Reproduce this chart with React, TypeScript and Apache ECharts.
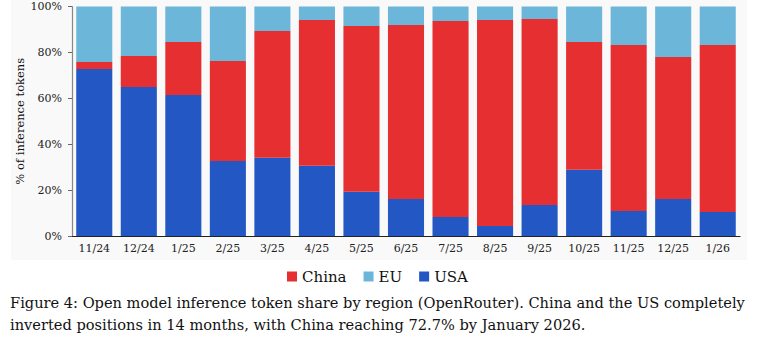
import React, { useEffect, useRef } from "react";
import * as echarts from "echarts";

const categories = ["11/24", "12/24", "1/25", "2/25", "3/25", "4/25", "5/25", "6/25", "7/25", "8/25", "9/25", "10/25", "11/25", "12/25", "1/26"];
const usaShare = [72.8, 64.9, 61.4, 32.7, 34.1, 30.6, 19.3, 16.1, 8.3, 4.4, 13.5, 28.9, 10.9, 16.1, 10.5];
const chinaShare = [3.0, 13.5, 23.1, 43.6, 55.2, 63.5, 72.2, 75.8, 85.4, 89.7, 81.1, 55.6, 72.3, 61.9, 72.7];
const euShare = [24.2, 21.6, 15.5, 23.7, 10.7, 5.9, 8.5, 8.1, 6.3, 5.9, 5.4, 15.5, 16.8, 22.0, 16.8];
const captionLines = [
  "Figure 4: Open model inference token share by region (OpenRouter). China and the US completely",
  "inverted positions in 14 months, with China reaching 72.7% by January 2026.",
];

const RED = "#e52f30";
const LIGHT = "#6cb6da";
const BLUE = "#2257c4";
const TICK_FONT = "DejaVu Serif";
const CAP_FONT = "DejaVu Serif";

export default function App() {
  const ref = useRef<HTMLDivElement>(null);
  useEffect(() => {
    document.body.style.margin = "0";
    const chart = echarts.init(ref.current!, null, { renderer: "svg" });
    chart.setOption({
      animation: false,
      backgroundColor: "#ffffff",
      graphic: [
        { type: "rect", z: -10, shape: { x: 11, y: 0, width: 736, height: 260 }, style: { fill: "#f9f9f9" } },
        ...captionLines.map((t, i) => ({
          type: "text",
          left: 10,
          top: 295 + i * 22,
          style: { text: t, fontFamily: CAP_FONT, fontSize: 14.6, fill: "#111" },
        })),
      ],
      legend: {
        left: 282,
        top: 264,
        icon: "rect",
        itemWidth: 10,
        itemHeight: 10,
        itemGap: 17,
        data: ["China", "EU", "USA"],
        textStyle: { fontFamily: CAP_FONT, fontSize: 15, color: "#111" },
      },
      grid: { left: 72, right: 17, top: 6.5, bottom: 109 },
      xAxis: {
        type: "category",
        data: categories,
        axisLine: { lineStyle: { color: "#222", width: 1.2 } },
        axisTick: { alignWithLabel: true, length: 4, lineStyle: { color: "#666" } },
        axisLabel: { fontFamily: TICK_FONT, fontSize: 11, color: "#222", margin: 7 },
      },
      yAxis: {
        type: "value",
        min: 0,
        max: 100,
        interval: 20,
        name: "% of inference tokens",
        nameLocation: "middle",
        nameRotate: 90,
        nameGap: 46,
        nameMoveOverlap: false,
        nameTextStyle: { fontFamily: TICK_FONT, fontSize: 11.5, fontWeight: "normal", color: "#111" },
        axisLine: { show: true, lineStyle: { color: "#888", width: 1.2 } },
        axisTick: { show: true, length: 4, lineStyle: { color: "#666" } },
        splitLine: { show: false },
        axisLabel: { fontFamily: TICK_FONT, fontSize: 11, color: "#222", margin: 10, formatter: "{value}%" },
      },
      series: [
        { name: "USA", type: "bar", stack: "s", data: usaShare, itemStyle: { color: BLUE }, barCategoryGap: "19%" },
        { name: "China", type: "bar", stack: "s", data: chinaShare, itemStyle: { color: RED } },
        { name: "EU", type: "bar", stack: "s", data: euShare, itemStyle: { color: LIGHT } },
      ],
    });
    return () => chart.dispose();
  }, []);
  return <div ref={ref} style={{ width: 757, height: 345 }} />;
}
